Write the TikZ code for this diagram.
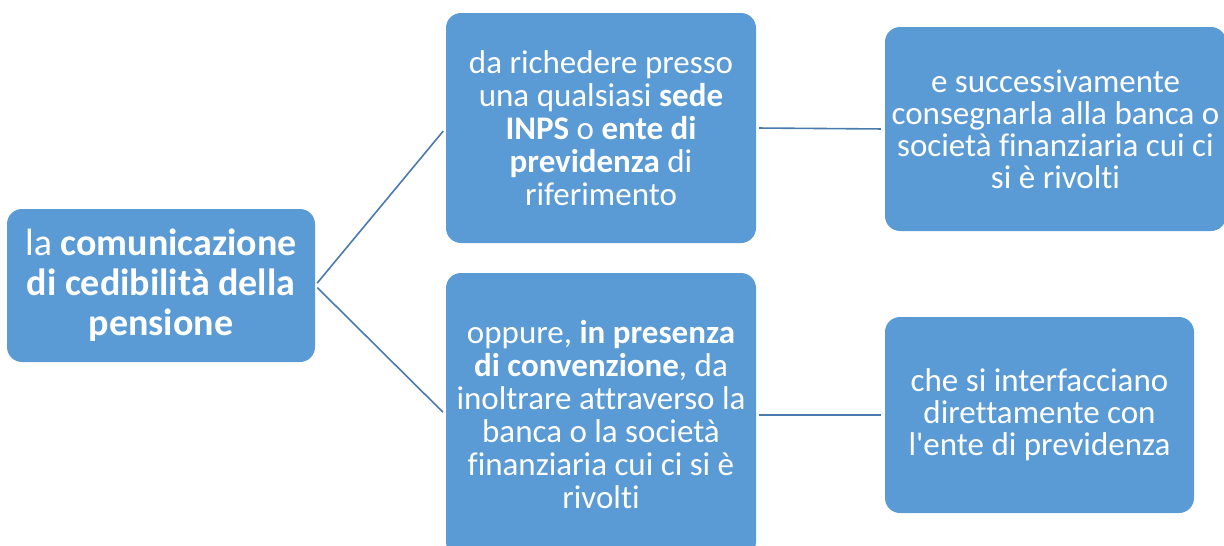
\documentclass[tikz,border=0pt]{standalone}
\usepackage{fontspec}
\setmainfont{Carlito}[Ligatures={NoCommon,TeXOff}]
\definecolor{boxblue}{HTML}{5B9BD5}
\definecolor{lineblue}{HTML}{4A7AAE}
\begin{document}
\begin{tikzpicture}[x=1pt,y=-1pt,
  box/.style={draw=none,fill=boxblue,rounded corners=15pt,text=white,align=center,inner sep=0pt},
  conn/.style={draw=lineblue,line width=1.6pt,shorten >=4pt,shorten <=3pt}]
\useasboundingbox (0,0) rectangle (1224,546);
\begin{scope}
\clip (0,0) rectangle (1224,546);
\node[box,minimum width=308pt,minimum height=153pt,font=\fontsize{38}{40}\selectfont] (a) at (161,285.5)
  {la \textbf{comunicazione}\\\textbf{di cedibilità della}\\\textbf{pensione}};
\node[box,minimum width=310pt,minimum height=230pt,font=\fontsize{33}{33}\selectfont] (b) at (601,128)
  {da richedere presso\\una qualsiasi \textbf{sede}\\\textbf{INPS} o \textbf{ente di}\\\textbf{previdenza} di\\riferimento};
\node[box,minimum width=310pt,minimum height=284pt,font=\fontsize{33}{33}\selectfont] (c) at (601,415)
  {oppure, \textbf{in presenza}\\\textbf{di convenzione}, da\\inoltrare attraverso la\\banca o la società\\finanziaria cui ci si è\\rivolti};
\node[box,minimum width=341pt,minimum height=204pt,font=\fontsize{33}{32}\selectfont] (d) at (1055.5,129)
  {e successivamente\\consegnarla alla banca o\\società finanziaria cui ci\\si è rivolti};
\node[box,minimum width=309pt,minimum height=196pt,font=\fontsize{33}{32}\selectfont] (e) at (1039.5,415)
  {che si interfacciano\\direttamente con\\l'ente di previdenza};
\end{scope}
\draw[conn] (a.east) -- (b.west);
\draw[conn] (a.east) -- (c.west);
\draw[conn] (b.east) -- (d.west);
\draw[conn] (c.east) -- (e.west);
\end{tikzpicture}
\end{document}
